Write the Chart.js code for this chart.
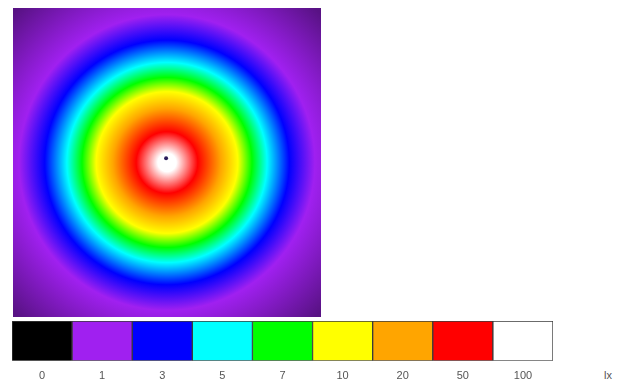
<!DOCTYPE html>
<html>
<head>
<meta charset="utf-8">
<script src="https://cdn.jsdelivr.net/npm/chart.js@4"></script>
<style>
	html, body { margin: 0; padding: 0; background: #fff; }
	body { position: relative; width: 623px; height: 389px; overflow: hidden; font-family: 'Liberation Sans', Arial, sans-serif; }
	#campo { position: absolute; left: 13px; top: 8px; }
	#escala { position: absolute; left: 12px; top: 321px; }
	#unidad { position: absolute; left: 604px; top: 369px; font-size: 11px; color: #555; }
</style>
</head>
<body>
<canvas id="campo" width="308" height="309"></canvas>
<canvas id="escala" width="541" height="71"></canvas>
<span id="unidad">lx</span>
<script>
	// --- NIVELES DE LA ESCALA (lx) --- //
	const niveles = [0, 1, 3, 5, 7, 10, 20, 50, 100];
	const etiquetas = ['0', '1', '3', '5', '7', '10', '20', '50', '100'];
	const colores = ['#000000', '#a020f0', '#0000ff', '#00ffff', '#00ff00', '#ffff00', '#ffa500', '#ff0000', '#ffffff'];

	// --- PERFIL RADIAL (distancia al centro del area en m, lx) --- //
	const distancias = [0, 0.3, 1.0, 1.75, 2.3, 2.76, 3.25, 3.97, 4.8, 6.95];
	const iluminancia = [100, 100, 50, 20, 10, 7, 5, 3, 1, 0.55];

	// --- POSICION DE LA LUMINARIA Y TAMAÑO DEL AREA (m) --- //
	const luminaria = [{ x: -0.03, y: 0.14 }];
	const semiLado = 5;

	function hexRgb(h) {
		return [parseInt(h.slice(1, 3), 16), parseInt(h.slice(3, 5), 16), parseInt(h.slice(5, 7), 16)];
	}

	function colorLux(v) {
		for (let i = 1; i < niveles.length; i++) {
			if (v <= niveles[i]) {
				const t = (v - niveles[i - 1]) / (niveles[i] - niveles[i - 1]);
				const a = hexRgb(colores[i - 1]);
				const b = hexRgb(colores[i]);
				const c = a.map((x, k) => Math.round(x + (b[k] - x) * t));
				return 'rgb(' + c.join(',') + ')';
			}
		}
		return colores[colores.length - 1];
	}

	const pintarCampo = {
		id: 'pintarCampo',
		beforeDatasetsDraw(chart) {
			const ctx = chart.ctx;
			const area = chart.chartArea;
			const cx = chart.scales.x.getPixelForValue(0);
			const cy = chart.scales.y.getPixelForValue(0);
			const rMax = chart.scales.x.getPixelForValue(distancias[distancias.length - 1]) - cx;
			const grad = ctx.createRadialGradient(cx, cy, 0, cx, cy, rMax);
			distancias.forEach((d, i) => {
				const r = chart.scales.x.getPixelForValue(d) - cx;
				grad.addColorStop(r / rMax, colorLux(iluminancia[i]));
			});
			ctx.save();
			ctx.fillStyle = grad;
			ctx.fillRect(area.left, area.top, area.right - area.left, area.bottom - area.top);
			ctx.restore();
		},
	};

	new Chart(document.getElementById('campo'), {
		type: 'scatter',
		data: {
			datasets: [
				{
					data: luminaria,
					pointRadius: 2,
					pointBackgroundColor: '#2b1d5c',
					pointBorderWidth: 0,
				},
			],
		},
		options: {
			responsive: false,
			animation: false,
			layout: { padding: 0, autoPadding: false },
			scales: {
				x: { type: 'linear', min: -semiLado, max: semiLado, display: false },
				y: { type: 'linear', min: -semiLado, max: semiLado, display: false },
			},
			plugins: {
				legend: { display: false },
				tooltip: { enabled: false },
			},
		},
		plugins: [pintarCampo],
	});

	new Chart(document.getElementById('escala'), {
		type: 'bar',
		data: {
			labels: etiquetas,
			datasets: [
				{
					data: niveles.map(() => 1),
					backgroundColor: colores,
					borderColor: '#3a3a3a',
					borderWidth: 1,
					borderSkipped: false,
					barPercentage: 1,
					categoryPercentage: 1,
				},
			],
		},
		options: {
			responsive: false,
			animation: false,
			layout: { padding: 0 },
			scales: {
				x: {
					grid: { display: false, drawTicks: false },
					border: { display: false },
					ticks: { padding: 9, color: '#555', font: { family: "'Liberation Sans', Arial, sans-serif", size: 11 } },
				},
				y: { min: 0, max: 1, display: false },
			},
			plugins: {
				legend: { display: false },
				tooltip: { enabled: false },
			},
		},
	});
</script>
</body>
</html>
